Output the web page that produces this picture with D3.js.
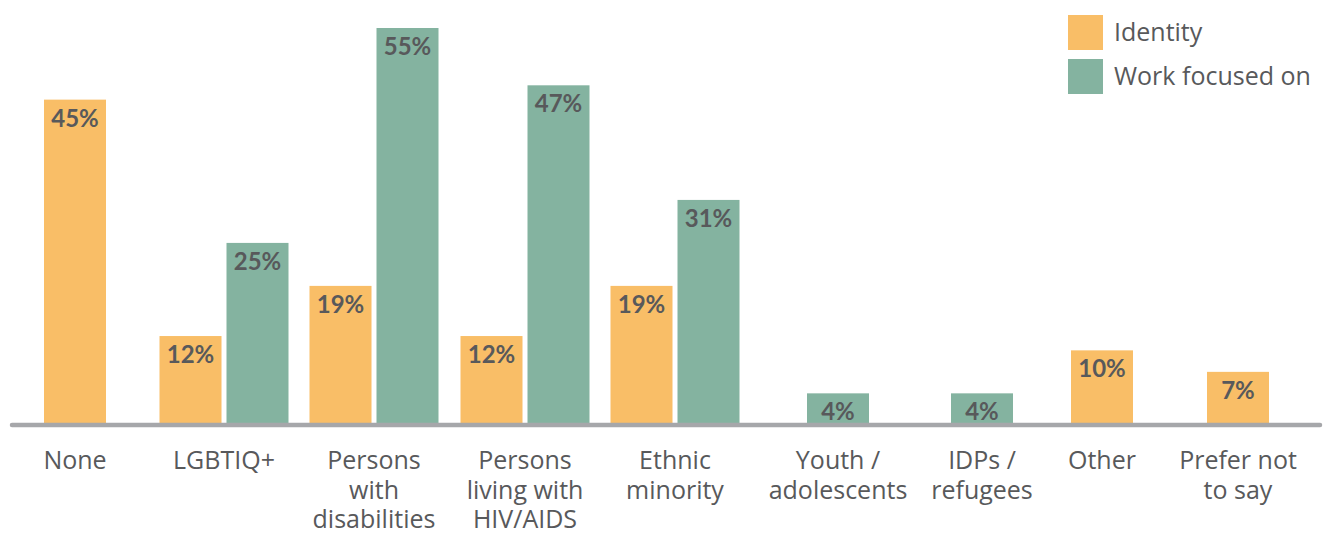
<!DOCTYPE html>
<html>
<head>
<meta charset="utf-8">
<script src="https://cdn.jsdelivr.net/npm/d3@7"></script>
<style>
  html, body { margin: 0; padding: 0; background: #fff; }
  svg { display: block; }
</style>
</head>
<body>
<svg id="chart" width="1330" height="545"></svg>
<script>
// ---- data ----
const categories = ["None", "LGBTIQ+", "Persons with disabilities", "Persons living with HIV/AIDS",
  "Ethnic minority", "Youth / adolescents", "IDPs / refugees", "Other", "Prefer not to say"];
const tickLabels = [["None"], ["LGBTIQ+"], ["Persons", "with", "disabilities"], ["Persons", "living with", "HIV/AIDS"],
  ["Ethnic", "minority"], ["Youth /", "adolescents"], ["IDPs /", "refugees"], ["Other"], ["Prefer not", "to say"]];
const seriesNames = ["Identity", "Work focused on"];
const identityValues = [45, 12, 19, 12, 19, null, null, 10, 7];
const workValues = [null, 25, 55, 47, 31, 4, 4, null, null];

// ---- layout / style ----
const colors = { "Identity": "#F9BE67", "Work focused on": "#84B3A0" };
const textColor = "#58595b";
const groupCenters = [75, 224, 374, 525, 675, 838, 982, 1102, 1238];
const baseY = 422;

const svg = d3.select("#chart");

const x = d3.scaleOrdinal().domain(categories).range(groupCenters);
const inner = d3.scaleBand().domain(seriesNames).range([-64.5, 64.5]).paddingInner(5 / 67).paddingOuter(0);
const y = d3.scaleLinear().domain([0, 55]).range([baseY, 28]);

const bars = [];
categories.forEach((c, i) => {
  const vals = [identityValues[i], workValues[i]];
  const present = seriesNames.filter((s, k) => vals[k] != null);
  seriesNames.forEach((s, k) => {
    const v = vals[k];
    if (v == null) return;
    const x0 = present.length === 2 ? x(c) + inner(s) : x(c) - inner.bandwidth() / 2;
    bars.push({ cat: c, series: s, value: v, x0 });
  });
});

const g = svg.append("g");
g.selectAll("rect.bar").data(bars).join("rect")
  .attr("class", "bar")
  .attr("x", d => d.x0)
  .attr("width", inner.bandwidth())
  .attr("y", d => y(d.value))
  .attr("height", d => y(0) - y(d.value) + 1)
  .attr("fill", d => colors[d.series]);

g.selectAll("text.val").data(bars).join("text")
  .attr("class", "val")
  .attr("x", d => d.x0 + inner.bandwidth() / 2)
  .attr("y", d => y(d.value) + 27)
  .attr("text-anchor", "middle")
  .attr("font-family", "Lato, 'Open Sans', sans-serif")
  .attr("font-weight", "bold")
  .attr("font-size", 24)
  .attr("fill", textColor)
  .text(d => d.value + "%");

// baseline
svg.append("line")
  .attr("x1", 12).attr("x2", 1320)
  .attr("y1", 425).attr("y2", 425)
  .attr("stroke", "#a6a7aa")
  .attr("stroke-width", 4.5)
  .attr("stroke-linecap", "round");

// category labels
const lab = svg.append("g");
categories.forEach((c, i) => {
  const t = lab.append("text")
    .attr("x", x(c))
    .attr("y", 469)
    .attr("text-anchor", "middle")
    .attr("font-family", "'Open Sans', sans-serif")
    .attr("font-size", 25)
    .attr("fill", textColor);
  tickLabels[i].forEach((line, j) => {
    t.append("tspan").attr("x", x(c)).attr("dy", j === 0 ? 0 : 29.5).text(line);
  });
});

// legend
const leg = svg.append("g");
seriesNames.forEach((s, i) => {
  const yy = 15 + i * 44;
  leg.append("rect").attr("x", 1068).attr("y", yy).attr("width", 35).attr("height", 35).attr("fill", colors[s]);
  leg.append("text")
    .attr("x", 1114).attr("y", yy + 26)
    .attr("font-family", "'Open Sans', sans-serif")
    .attr("font-size", 25)
    .attr("fill", textColor)
    .text(s);
});
</script>
</body>
</html>
